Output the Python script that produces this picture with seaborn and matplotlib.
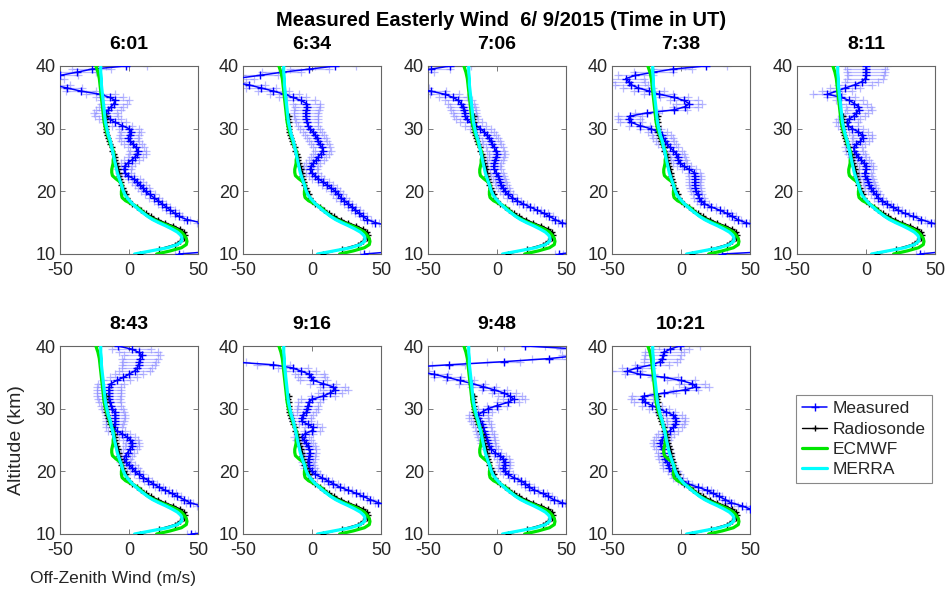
import numpy as np
import matplotlib
matplotlib.use("Agg")
import matplotlib.pyplot as plt
import seaborn as sns
from matplotlib.lines import Line2D

# ---------------- data ----------------
times = ["6:01", "6:34", "7:06", "7:38", "8:11", "8:43", "9:16", "9:48", "10:21"]

alt_meas = [10.0, 10.4, 11.0, 12.0, 13.0, 14.0, 14.5,
            15.0, 15.5, 16.0, 16.5, 17.0, 17.5, 18.0, 18.5, 19.0, 19.5,
            20.0, 20.5, 21.0, 21.5, 22.0, 22.5, 23.0, 23.5, 24.0, 24.5,
            25.0, 25.5, 26.0, 26.5, 27.0, 27.5, 28.0, 28.5, 29.0, 29.5,
            30.0, 30.5, 31.0, 31.5, 32.0, 32.5, 33.0, 33.5, 34.0, 34.5,
            35.0, 35.5, 36.0, 36.5, 37.0, 37.5, 38.0, 38.5, 39.0, 39.5,
            40.0]

err_meas = [3, 3, 3, 3, 3, 3, 3,
            2.5, 2.5, 2.5, 3, 3, 3, 3, 3, 3.5, 3.5,
            3.5, 4, 4, 4, 4.5, 4.5, 4.5, 5, 5, 5,
            5.5, 5.5, 6, 6, 6, 6.5, 6.5, 7, 7, 7,
            7.5, 7.5, 8, 8, 8.5, 8.5, 9, 9, 9.5, 10,
            10, 10.5, 11, 11, 12, 12, 13, 13, 14, 14,
            15]

meas_0601 = [36, 60, 80, 85, 80, 70, 60,
             52, 42, 36, 33, 30, 27, 24, 21, 18, 15,
             12, 10.5, 8, 6, 3.5, -1, -3, -3.5, -3, -1,
             2, 4.5, 6, 6.5, 5, 3, 1, -0.5, 0.5, 1.5,
             0, -5, -10, -14, -16.5, -17, -15, -13, -11, -10,
             -14, -21, -35, -45, -55, -70, -60, -50, -38, -27,
             -2]
meas_0634 = [38, 60, 80, 85, 80, 68, 55,
             46, 40, 37, 34, 31.5, 29, 26, 23.5, 21, 19,
             17, 14, 11, 8, 4.5, 2, 0, -1.5, -0.5, 1,
             3, 4.5, 6.5, 8, 7, 5.5, 4.5, 3.5, 2, 0.5,
             -1.5, -3, -3.5, -4, -4.5, -4.5, -4, -3.5, -4, -8,
             -14, -20, -28, -37, -46, -60, -55, -38, -22, -2,
             17]
meas_0706 = [45, 60, 80, 85, 80, 65, 55,
             47, 42, 38, 34, 29, 24, 19, 14.5, 11, 8,
             6, 4.5, 3, 2.5, 1.5, 0.5, -0.5, -2, -2.5, -2,
             -1.5, -0.5, 0, -1, -2, -3.5, -4.5, -6, -7.5, -9.5,
             -12, -15.5, -19, -22, -23, -23.5, -24, -25, -26, -28,
             -32, -38, -48, -60, -70, -80, -85, -75, -60, -48,
             -34]
meas_0738 = [30, 65, 80, 85, 80, 65, 55,
             47, 41, 37, 33, 28, 22, 17, 14.5, 13, 12,
             11, 10.5, 10, 10, 10, 10, 9.5, 6, 2, -0.5,
             -2, -2.5, -3.5, -5.5, -8, -10, -11.5, -13, -14, -17,
             -22, -30, -36, -38, -37, -25, -5, 3, 6, 2,
             -5, -16, -23, -31, -36, -38, -40, -33, -20, -6,
             18]
meas_0811 = [39, 58, 80, 85, 80, 65, 55,
             47, 40, 34, 28, 23, 19.5, 15, 11.5, 9, 7,
             5, 3.5, 2.5, 1.5, 0.5, -0.5, -1, 0, 0, -1.5,
             -3.5, -5.5, -7, -8.5, -9, -7, -4, -2.5, -3, -5.5,
             -10, -13, -14, -12.5, -9, -7, -5, -5.5, -8.5, -12,
             -18, -28, -21, -15, -8, -3, -0.5, 0, 0, 0,
             0]
meas_0843 = [45, 65, 80, 85, 80, 65, 52,
             44, 40, 35, 31, 26, 21.5, 17.5, 14, 10.5, 7,
             4.5, 2.5, 0, -2.5, -3.5, -2.5, -1, 0.5, 2, 2.5,
             1, -1.5, -5, -9, -11, -10.5, -10, -10, -10, -10.5,
             -12, -13, -14, -14.5, -14.5, -14.5, -14.5, -14.5, -13, -9,
             -4, 0, 4, 6, 7, 7.5, 8, 9.5, 7, 2,
             -8]
meas_0916 = [70, 75, 80, 85, 80, 65, 56,
             48, 42, 37, 32, 26, 20, 15.5, 11.5, 7, 2.5,
             0, -2, -2.5, -3, -2.5, -2, -1.5, -2, -3, -4.5,
             -6, -7.5, -5, 0, 1, -3, -7.5, -7.5, -6.5, -4,
             -3.5, -3, -2.5, 0, 8, 13, 17, 15, 8, 1,
             -0.5, -2, -8, -14, -28, -60, -90, -100, -100, -100,
             -100]
meas_0948 = [70, 75, 80, 85, 80, 65, 55,
             47, 41, 37, 33, 27, 23.5, 20.5, 17.5, 12, 8,
             5.5, 4.5, 5.5, 5.5, 4.5, 2, -1.5, -4, -5.5, -6.5,
             -7, -8, -8.5, -9.5, -10, -11, -12.5, -13.5, -13.5, -10.5,
             -6.5, 0, 8, 12, 9.5, 5, -2, -10, -18, -27,
             -36, -46, -60, -70, -35, 5, 38, 60, 70, 60,
             20]
meas_1021 = [60, 70, 80, 80, 70, 50, 44,
             36, 32, 27.5, 23, 18.5, 12, 5, 1, -2, -4,
             -6, -9, -9, -10, -11.5, -12, -12, -13, -14.5, -15,
             -14, -12.5, -11, -8, -5.5, -4, -3.5, -4, -6, -11,
             -16, -21, -26, -28, -27, -12, 3, 11, 8, 0,
             -12, -30, -39, -32, -21, -15, -13.5, -13, -12, -8,
             -1]

alt_sonde = [10.0, 10.8, 11.5, 12.0, 12.5, 13.0, 13.5, 14.0, 14.5, 15.0,
             15.5, 16.0, 16.5, 17.0, 17.5, 18.0, 18.5, 19.0, 19.5, 20.0,
             20.5, 21.0, 21.5, 22.0, 22.5, 23.0, 23.5, 24.0, 24.5, 25.0,
             25.5, 26.0, 26.5, 27.0, 27.5, 28.0, 28.5, 29.0, 29.5, 30.0,
             30.5, 31.0, 31.5, 32.0]
wind_sonde = [8, 22, 33, 37, 39.5, 40.5, 40, 37, 32, 26,
              21, 16, 12.5, 9, 5.5, 2.5, 0, -1.5, -2.5, -3.5,
              -4.5, -5.5, -6, -6.5, -7, -7.5, -8, -8.5, -9.5, -10,
              -10.5, -11, -12, -12.5, -13.5, -14.5, -15.5, -16, -16.5, -17,
              -17, -17, -17.5, -17]

alt_ecmwf = [10.0, 10.5, 11.0, 11.5, 12.0, 12.5, 13.0, 13.5, 14.0, 14.5,
             15.0, 15.5, 16.0, 16.5, 17.0, 17.5, 18.0, 18.5, 19.0, 19.5,
             20.0, 20.5, 21.0, 21.5, 22.0, 22.5, 23.0, 23.5, 24.0, 24.5,
             25.0, 25.5, 26.0, 26.5, 27.0, 27.5, 28.0, 29.0, 30.0, 31.0,
             32.0, 33.0, 34.0, 35.0, 36.0, 37.0, 38.0, 39.0, 40.0]
wind_ecmwf = [20, 30, 38, 41.5, 42, 41.5, 40, 38, 34, 29,
              23, 18, 14, 11, 8.5, 6, 2, -2.5, -5, -5.5,
              -5.5, -5, -5, -6.5, -9.5, -12, -12.5, -12.5, -12, -11.5,
              -11.5, -11, -11, -11.5, -12.5, -13.5, -14, -15.5, -17, -18,
              -18.5, -19, -19.5, -20, -20.5, -21, -21.5, -22.5, -24]

alt_merra = [10.0, 10.5, 11.0, 11.5, 12.0, 12.5, 13.0, 13.5, 14.0, 14.5,
             15.0, 15.5, 16.0, 16.5, 17.0, 17.5, 18.0, 18.5, 19.0, 19.5,
             20.0, 21.0, 22.0, 23.0, 24.0, 25.0, 26.0, 27.0, 28.0, 29.0,
             30.0, 31.0, 32.0, 33.0, 34.0, 35.0, 36.0, 37.0, 38.0, 39.0, 40.0]
wind_merra = [4, 16, 28, 35, 38, 38.5, 37.5, 35, 31, 26.5,
              21.5, 17, 13.5, 10.5, 7.5, 5, 2.5, 0.5, -1.5, -3,
              -4, -5.5, -7, -8.5, -9.5, -10.5, -11.5, -12.5, -13.5, -15,
              -16, -17, -17.5, -18, -18.5, -19, -19.5, -20, -20, -20.5, -20.5]

series_meas = [meas_0601, meas_0634, meas_0706, meas_0738, meas_0811,
               meas_0843, meas_0916, meas_0948, meas_1021]

x_ticks = [-50, 0, 50]
y_ticks = [10, 20, 30, 40]

# ---------------- style ----------------
sns.set_theme(style="ticks")
plt.rcParams["font.family"] = ["Liberation Sans", "DejaVu Sans"]
plt.rcParams.update({
    "axes.unicode_minus": False,
    "xtick.direction": "in", "ytick.direction": "in",
    "xtick.top": True, "ytick.right": True,
    "axes.edgecolor": "#666666", "axes.linewidth": 0.8,
    "xtick.color": "#666666", "ytick.color": "#666666",
    "xtick.labelcolor": "#262626", "ytick.labelcolor": "#262626",
    "xtick.major.size": 3.5, "ytick.major.size": 3.5,
    "xtick.major.width": 0.6, "ytick.major.width": 0.6,
    "xtick.major.pad": 6.0, "ytick.major.pad": 3.0,
    "xtick.labelsize": 13, "ytick.labelsize": 13,
})

C_MEAS = (0.0, 0.0, 1.0)
C_ERR = (0.55, 0.55, 1.0)
C_SONDE = "black"
C_ECMWF = (0.0, 0.9, 0.0)
C_MERRA = (0.0, 1.0, 1.0)

W, H = 947, 590
fig = plt.figure(figsize=(W / 100, H / 100), dpi=100)

lefts = [60, 243, 428, 612, 797, 60, 243, 428, 612]
tops = [66, 66, 66, 66, 66, 346, 346, 346, 346]
aw, ah = 138, 188

for i, (t, meas) in enumerate(zip(times, series_meas)):
    ax = fig.add_axes([lefts[i] / W, 1 - (tops[i] + ah) / H, aw / W, ah / H])
    m = np.asarray(meas, float)
    a = np.asarray(alt_meas, float)
    e = np.asarray(err_meas, float)
    # horizontal error bars
    ax.hlines(a, m - e, m + e, colors=[C_ERR], lw=0.9, alpha=0.6, zorder=1)
    ax.plot(np.r_[m - e, m + e], np.r_[a, a], ls="none", marker="+", ms=6,
            mew=0.9, color=C_ERR, alpha=0.6, zorder=1)
    # measured
    sns.lineplot(x=m, y=a, sort=False, estimator=None, color=C_MEAS, lw=1.1,
                 marker="+", markersize=6, mec=C_MEAS, mew=1.0, ax=ax, zorder=3)
    # radiosonde
    sns.lineplot(x=wind_sonde, y=alt_sonde, sort=False, estimator=None, color=C_SONDE,
                 lw=1.0, marker="+", markersize=4, mec=C_SONDE, mew=1.0, ax=ax, zorder=4)
    # models
    sns.lineplot(x=wind_ecmwf, y=alt_ecmwf, sort=False, estimator=None, color=C_ECMWF,
                 lw=2.3, ax=ax, zorder=5)
    sns.lineplot(x=wind_merra, y=alt_merra, sort=False, estimator=None, color=C_MERRA,
                 lw=2.3, ax=ax, zorder=6)
    ax.set_xlim(-50, 50)
    ax.set_ylim(10, 40)
    ax.set_xticks(x_ticks)
    ax.set_yticks(y_ticks)
    ax.set_xlabel("")
    ax.set_ylabel("")
    for s in ax.spines.values():
        s.set_visible(True)
    ax.set_title(t, fontsize=14, fontweight="bold", pad=12, color="black")

fig.text(501 / W, 1 - 21 / H, "Measured Easterly Wind  6/ 9/2015 (Time in UT)",
         ha="center", va="center", fontsize=14.5, fontweight="bold", color="black")
fig.text(17 / W, 1 - 440 / H, "Altitude (km)", rotation=90, ha="center", va="center",
         fontsize=14, color="#262626")
fig.text(30 / W, 1 - 578 / H, "Off-Zenith Wind (m/s)", ha="left", va="center",
         fontsize=12.5, color="#262626")

handles = [
    Line2D([], [], color=C_MEAS, lw=1.1, marker="+", ms=6, mew=1.0),
    Line2D([], [], color=C_SONDE, lw=1.0, marker="+", ms=4, mew=1.0),
    Line2D([], [], color=C_ECMWF, lw=2.3),
    Line2D([], [], color=C_MERRA, lw=2.3),
]
leg = fig.legend(handles, ["Measured", "Radiosonde", "ECMWF", "MERRA"],
                 loc="upper left", bbox_to_anchor=(796 / W, 1 - 395 / H),
                 fontsize=12.5, frameon=True, fancybox=False, framealpha=1,
                 edgecolor="#888888", handlelength=1.45, handletextpad=0.3,
                 labelspacing=0.3, borderpad=0.35, borderaxespad=0)
leg.get_frame().set_linewidth(0.8)

fig.savefig("out.png", dpi=100)
